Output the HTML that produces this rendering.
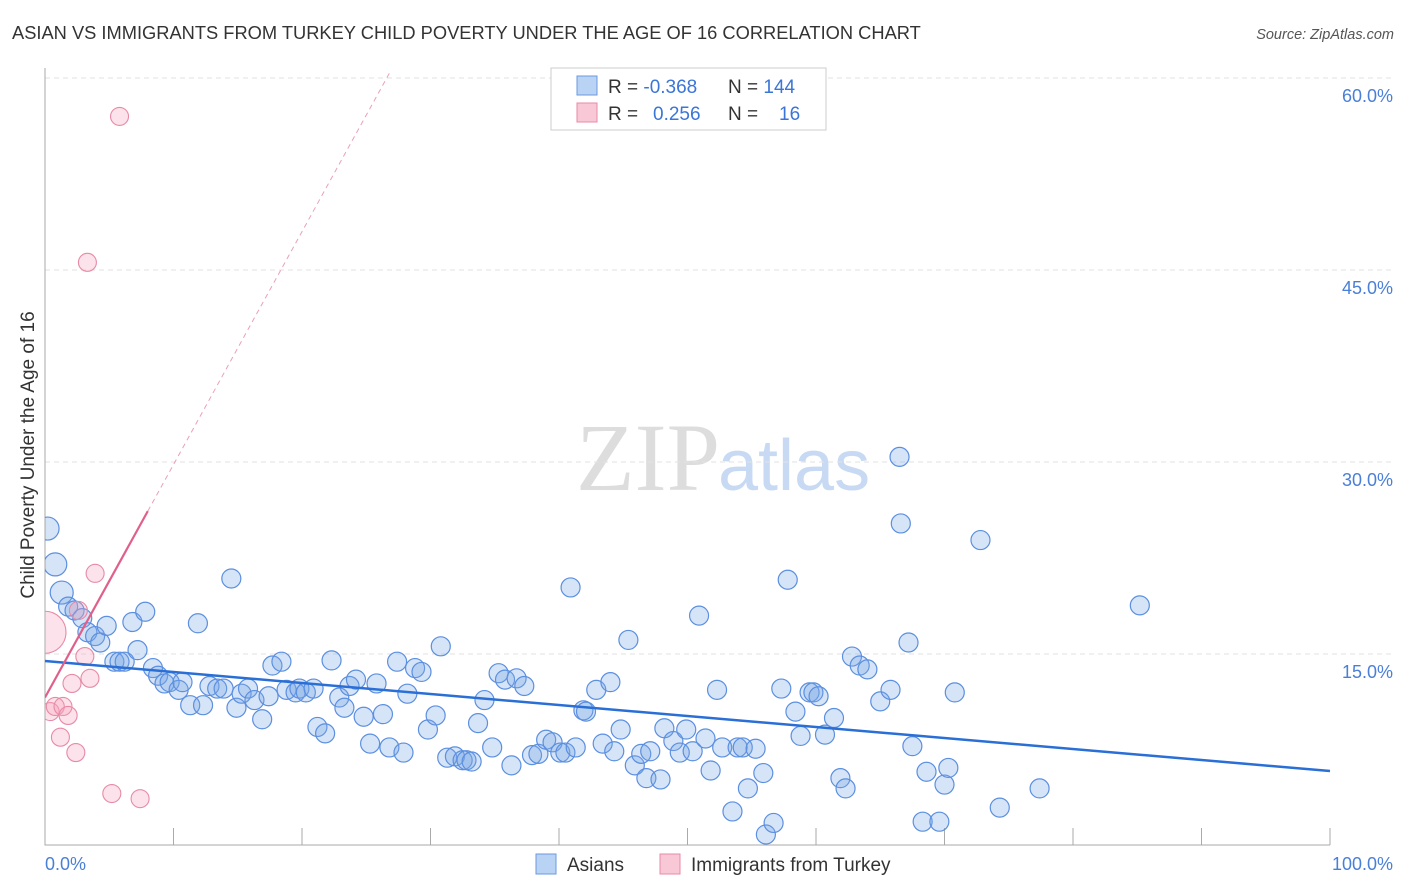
<!DOCTYPE html>
<html><head><meta charset="utf-8">
<style>
body{margin:0;background:#fff;font-family:"Liberation Sans",sans-serif;}
svg{display:block}
</style></head>
<body>
<svg id="chart" width="1406" height="892" xmlns="http://www.w3.org/2000/svg">
<defs><clipPath id="plotclip"><rect x="45" y="60" width="1360" height="786"/></clipPath></defs>
<text x="12" y="39" font-size="18.3" fill="#333">ASIAN VS IMMIGRANTS FROM TURKEY CHILD POVERTY UNDER THE AGE OF 16 CORRELATION CHART</text>
<text x="1394" y="39" font-size="14.5" fill="#555" font-style="italic" text-anchor="end">Source: ZipAtlas.com</text>
<text x="720" y="490" font-size="96" fill="#ddd" font-family="Liberation Serif,serif" text-anchor="end">ZIP</text>
<text x="718" y="490" font-size="72" fill="#c8daf3">atlas</text>
<text transform="translate(34,455) rotate(-90)" font-size="19" fill="#333" text-anchor="middle">Child Poverty Under the Age of 16</text>
<g id="grid"></g><g id="axes"></g><g id="marks" clip-path="url(#plotclip)"></g>
<g>
<rect x="551" y="68" width="275" height="62" fill="#fff" stroke="#ccc"/>
<rect x="577" y="76" width="20" height="19" fill="#b9d3f5" stroke="#6a9ae0"/>
<rect x="577" y="103" width="20" height="19" fill="#f9c8d6" stroke="#e88aa6"/>
<text x="608" y="93" font-size="19" fill="#333">R = <tspan fill="#3a75d8">-0.368</tspan></text>
<text x="728" y="93" font-size="19" fill="#333">N = <tspan fill="#3a75d8">144</tspan></text>
<text x="608" y="120" font-size="19" fill="#333">R = <tspan fill="#3a75d8" x="653">0.256</tspan></text>
<text x="728" y="120" font-size="19" fill="#333">N = <tspan fill="#3a75d8" x="779">16</tspan></text>
</g>
<g>
<rect x="536" y="854" width="20" height="20" fill="#b9d3f5" stroke="#6a9ae0"/>
<text x="567" y="871" font-size="19" fill="#333">Asians</text>
<rect x="660" y="854" width="20" height="20" fill="#f9c8d6" stroke="#e88aa6"/>
<text x="691" y="871" font-size="19" fill="#333">Immigrants from Turkey</text>
</g>
</svg>
<script>
const yTicks=[15,30,45,60];
const yTickLabels=["15.0%","30.0%","45.0%","60.0%"];
const asianX=[0.2,0.8,1.3,1.8,2.3,2.9,3.3,3.9,4.3,4.8,5.4,5.8,6.2,6.8,7.2,7.8,8.4,8.8,9.3,9.7,10.4,10.7,11.3,11.9,12.3,12.8,13.4,13.9,14.5,14.9,15.3,15.8,16.3,16.9,17.4,17.7,18.4,18.8,19.5,19.8,20.3,20.9,21.2,21.8,22.3,22.9,23.3,23.7,24.2,24.8,25.3,25.8,26.3,26.8,27.4,27.9,28.2,28.8,29.3,29.8,30.4,30.8,31.3,31.9,32.5,32.8,33.2,33.7,34.2,34.8,35.3,35.8,36.3,36.7,37.3,37.9,38.4,39.0,39.5,40.1,40.5,40.9,41.3,41.9,42.1,42.9,43.4,44.0,44.3,44.8,45.4,45.9,46.4,46.8,47.1,47.9,48.2,48.9,49.4,49.9,50.4,50.9,51.4,51.8,52.3,52.7,53.5,53.9,54.3,54.7,55.3,55.9,56.1,56.7,57.3,57.8,58.4,58.8,59.5,59.8,60.2,60.7,61.4,61.9,62.3,62.8,63.4,64.0,65.0,65.8,66.5,66.6,67.2,67.5,68.6,68.3,69.6,70.0,70.3,70.8,72.8,74.3,77.4,85.2];
const asianY=[24.8,22.0,19.8,18.7,18.4,17.8,16.7,16.4,15.9,17.2,14.4,14.4,14.4,17.5,15.3,18.3,13.9,13.3,12.7,12.8,12.2,12.8,11.0,17.4,11.0,12.5,12.3,12.3,20.9,10.8,11.9,12.3,11.4,9.9,11.7,14.1,14.4,12.2,12.0,12.3,12.0,12.3,9.3,8.8,14.5,11.6,10.8,12.5,13.0,10.1,8.0,12.7,10.3,7.7,14.4,7.3,11.9,13.9,13.6,9.1,10.2,15.6,6.9,7.0,6.7,6.7,6.6,9.6,11.4,7.7,13.5,13.0,6.3,13.1,12.5,7.1,7.2,8.3,8.1,7.3,7.3,20.2,7.7,10.6,10.5,12.2,8.0,12.8,7.4,9.1,16.1,6.3,7.2,5.3,7.4,5.2,9.2,8.2,7.3,9.1,7.4,18.0,8.4,5.9,12.2,7.7,2.7,7.7,7.7,4.5,7.6,5.7,0.9,1.8,12.3,20.8,10.5,8.6,12.0,12.0,11.7,8.7,10.0,5.3,4.5,14.8,14.1,13.8,11.3,12.2,30.4,25.2,15.9,7.8,5.8,1.9,1.9,4.8,6.1,12.0,23.9,3.0,4.5,18.8];
const turkeyX=[0,0.4,0.8,1.4,1.8,1.2,2.1,2.4,2.6,3.1,3.5,3.3,3.9,5.2,5.8,7.4];
const turkeyY=[16.7,10.5,10.9,10.9,10.2,8.5,12.7,7.3,18.4,14.8,13.1,45.6,21.3,4.1,57.0,3.7];
const asianTrend=[14.45,5.86];   // y at x=0 and x=100
const turkeyTrend=[11.6,1.82];   // intercept, slope
const turkeySolidEnd=8.0;

const NS="http://www.w3.org/2000/svg";
const X=v=>45+v*12.85, Y=v=>846-v*12.8;
function mk(tag,attrs,parent){const e=document.createElementNS(NS,tag);for(const k in attrs)e.setAttribute(k,attrs[k]);parent.appendChild(e);return e;}
const grid=document.getElementById('grid'),axes=document.getElementById('axes'),marks=document.getElementById('marks');
yTicks.forEach((t,i)=>{
 const l=mk('line',{x1:45,x2:1395,y1:Y(t),y2:Y(t),stroke:'#e2e2e2','stroke-dasharray':'5,4'},grid);
 
 
 const tx=mk('text',{x:1393,y:Y(t)+24,'font-size':18,fill:'#4a7fd8','text-anchor':'end'},grid);
 tx.textContent=yTickLabels[i];
 
 
});
const al=mk('path',{d:'M45 68 V845 H1330',stroke:'#aaa',fill:'none'},axes);


for(let i=1;i<=10;i++){
 const tk=mk('line',{x1:X(i*10),x2:X(i*10),y1:828,y2:845,stroke:'#aaa'},axes);
 
 
}
const xl0=mk('text',{x:45,y:870,'font-size':18,fill:'#4a7fd8'},axes);xl0.textContent='0.0%';


const xl1=mk('text',{x:1393,y:870,'font-size':18,fill:'#4a7fd8','text-anchor':'end'},axes);xl1.textContent='100.0%';



asianX.forEach((x,i)=>{
 const c=mk('circle',{cx:X(x),cy:Y(asianY[i]),r:i<3?11.5:9.5,fill:'rgba(120,165,230,0.3)',stroke:'#5b8fe0','stroke-width':1.2},marks);
 
 
});
turkeyX.forEach((x,i)=>{
 const c=mk('circle',{cx:X(x),cy:Y(turkeyY[i]),r:i==0?21:9,fill:'rgba(245,160,185,0.3)',stroke:'#e88aa6','stroke-width':1.1},marks);
 
 
});
const bt=mk('line',{x1:X(0),y1:Y(asianTrend[0]),x2:X(100),y2:Y(asianTrend[1]),stroke:'#2a6fd6','stroke-width':2.5},marks);


const ty=x=>turkeyTrend[0]+turkeyTrend[1]*x;
const ts=mk('line',{x1:X(0),y1:Y(ty(0)),x2:X(turkeySolidEnd),y2:Y(ty(turkeySolidEnd)),stroke:'#e0608a','stroke-width':2.2},marks);


const xe=(60.6-turkeyTrend[0])/turkeyTrend[1];
const td=mk('line',{x1:X(turkeySolidEnd),y1:Y(ty(turkeySolidEnd)),x2:X(xe),y2:Y(ty(xe)),stroke:'#eaa0b8','stroke-width':1,'stroke-dasharray':'5,4'},marks);


</script>
</body></html>
